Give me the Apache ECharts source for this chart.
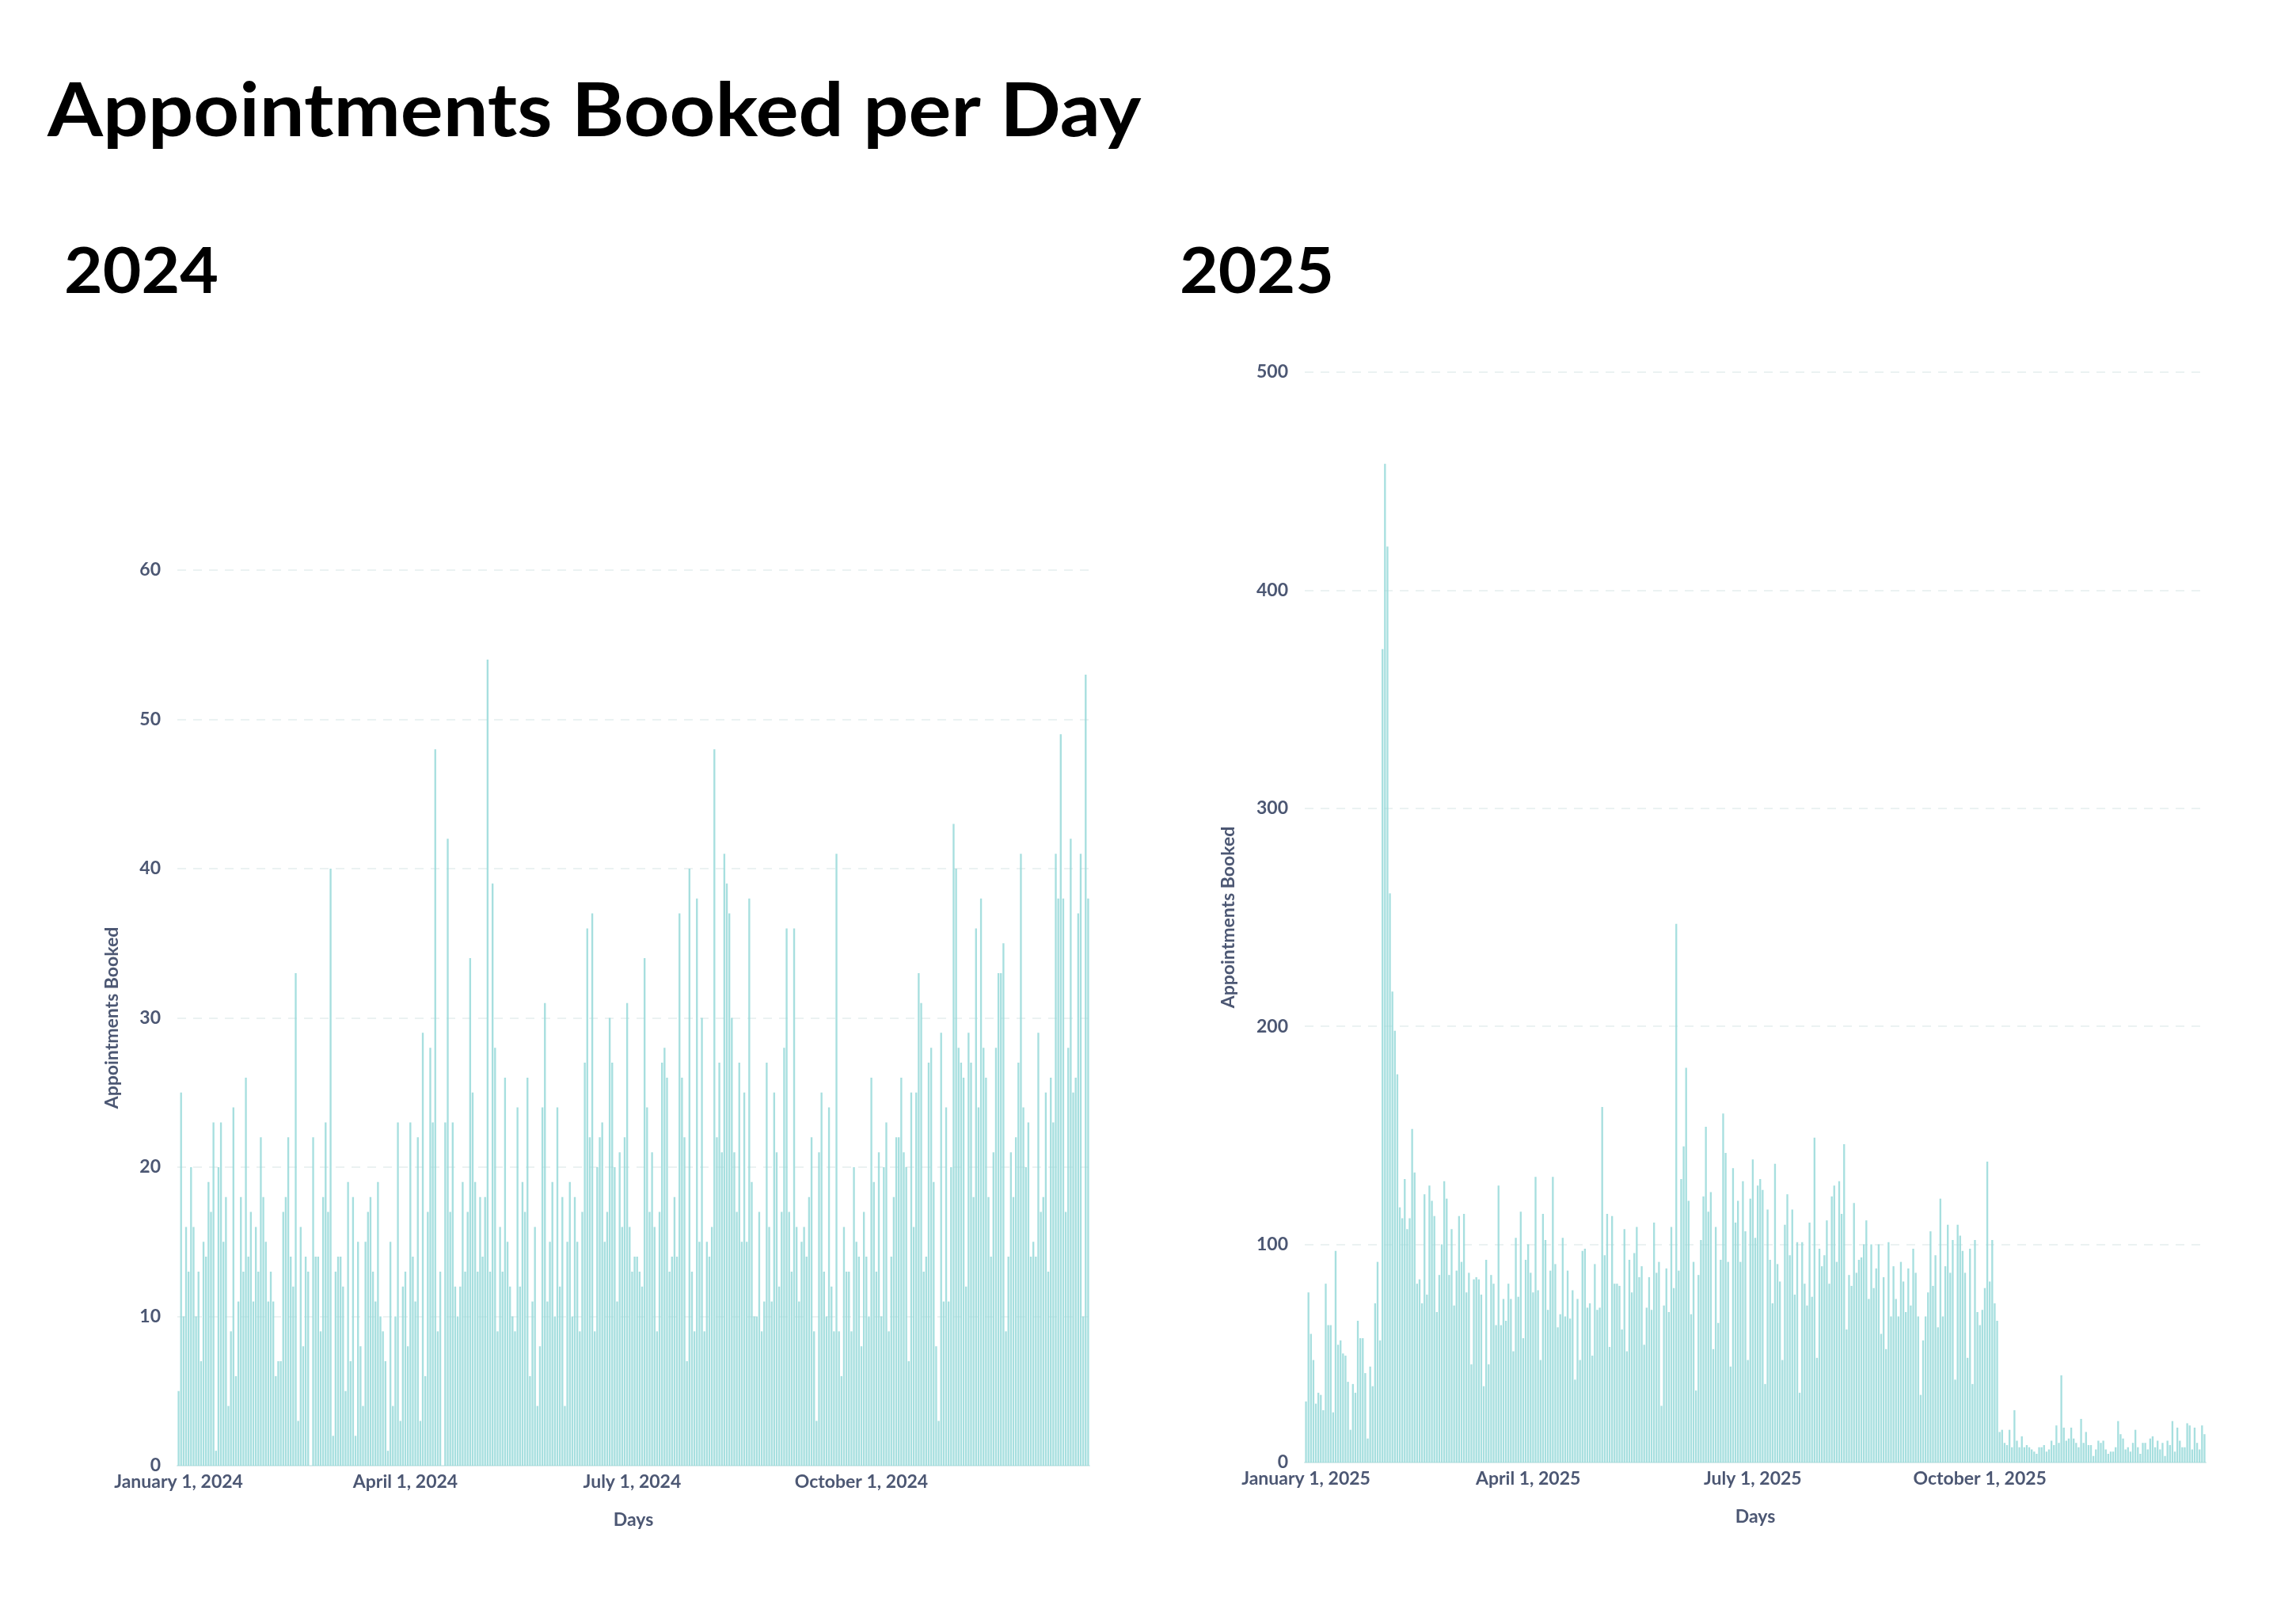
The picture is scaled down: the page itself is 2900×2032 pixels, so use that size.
<!DOCTYPE html>
<html><head><meta charset="utf-8">
<script src="https://cdn.jsdelivr.net/npm/echarts@6/dist/echarts.min.js"></script>
<style>html,body{margin:0;padding:0;background:#fff}#c{width:2900px;height:2032px}</style>
</head><body><div id="c"></div>
<script>
// ---- data ----
const values2024 = [
5,25,10,16,13,20,16,10,13,7, 15,14,19,17,23,1,20,23,15,18, 4,9,24,6,11,18,13,26,14,17,
11,16,13,22,18,15,11,13,11,6, 7,7,17,18,22,14,12,33,3,16, 8,14,13,0,22,14,14,9,18,23,
17,40,2,13,14,14,12,5,19,7, 18,2,15,8,4,15,17,18,13,11, 19,
10,9,7,1,15,4,10,23,3,12, 13,8,23,14,11,22,3,29,6,17, 28,23,48,9,13,0,23,42,17,23,
12,10,12,19,13,17,34,25,19,13, 18,14,18,54,13,39,28,9,16,13, 26,15,12,10,9,24,12,19,17,26,
6,11,16,4,8,24,31,11,15,19, 10,24,12,
18,4,15,19,10,18,15,9,17,27, 36,22,37,9,20,22,23,15,17,30, 27,20,11,21,16,22,31,16,13,14,
14,13,12,34,24,17,21,16,9,17, 27,28,26,13,14,18,14,37,26,22, 7,40,13,9,38,15,30,9,15,14,
16,48,22,27,21,41,39,37,30,21, 17,27,15,25,
15,38,19,10,10,17,9,11,27,16, 11,25,21,12,17,28,36,17,13,36, 16,11,15,16,14,18,22,9,3,21,
25,13,10,24,12,9,41,9,6,16, 13,13,9,20,15,14,8,17,14,10, 26,19,13,21,10,20,23,9,14,18,
22,22,26,21,20,7,25,16,25,
33,31,13,14,27,28,19,8,3,29, 11,24,11,20,43,40,28,27,26,12, 29,27,18,36,24,38,28,26,18,14,
21,28,33,33,35,9,14,21,18,22, 27,41,24,20,23,14,15,14,29,17, 18,25,13,26,23,41,38,49,38,17,
28,42,25,26,37,41,10,53,38
];
const values2025 = [
28,78,59,47,27,32,31,24,82,63, 63,23,97,54,56,50,49,37,15,36, 32,65,57,57,41,11,44,35,73,92,
56,373,458,420,261,216,198,178,117,112, 130,107,112,153,133,82,84,73,123,77, 127,120,113,69,86,100,129,121,86,107,
72,88,113,92,114,78,87,45,84,85, 84,77,35,93,45,86,82,63,127,63, 75,
65,82,75,51,103,76,115,57,93,100, 87,78,131,79,47,114,102,70,88,131, 91,62,68,103,67,88,66,79,38,75,
47,97,98,71,73,49,91,70,71,163, 95,114,53,113,82,82,81,61,107,51, 93,78,96,108,85,90,54,71,85,70,
110,87,92,26,72,89,69,108,80,247,
88,130,145,181,120,68,92,33,86,102, 122,154,115,124,52,108,64,93,160,142, 92,44,135,110,120,92,129,106,47,121,
139,103,127,130,125,36,116,93,73,137, 91,83,47,109,123,95,116,77,101,32, 101,82,72,110,76,149,48,98,90,95,
111,82,122,127,92,129,114,146,61,86, 81,119,87,93,94,100,111,
75,100,80,89,100,59,85,52,101,67, 90,75,67,92,83,69,89,72,98,87, 67,31,56,67,78,106,81,95,62,121,
67,90,109,87,102,38,109,104,97,87, 48,98,36,102,69,63,70,80,138,83, 102,73,65,14,15,9,8,15,7,24,
10,7,12,7,8,7,6,5,4,7, 7,8,5,6,
10,8,17,9,40,16,10,11,16,11, 9,7,20,9,14,8,8,3,6,10, 9,10,6,4,5,5,7,19,13,11,
6,7,5,9,15,7,4,9,9,6, 11,12,7,10,6,9,3,10,8,19, 5,16,10,7,7,18,17,6,16,9,
6,17,13
];
const tickDates2024 = ['2024-01-01','2024-04-01','2024-07-01','2024-10-01'];
const tickLabels2024 = ['January 1, 2024','April 1, 2024','July 1, 2024','October 1, 2024'];
const tickDates2025 = ['2025-01-01','2025-04-01','2025-07-01','2025-10-01'];
const tickLabels2025 = ['January 1, 2025','April 1, 2025','July 1, 2025','October 1, 2025'];
const yTicks2024 = {min: 0, max: 60, interval: 10};
const yTicks2025 = {min: 0, max: 500, interval: 100};

function dayList(year, n) {
  const out = [];
  for (let i = 0; i < n; i++) out.push(new Date(Date.UTC(year, 0, 1 + i)).toISOString().slice(0, 10));
  return out;
}
const days2024 = dayList(2024, values2024.length);
const days2025 = dayList(2025, values2025.length);

const TXT = '#4c5773';
const FONT = 'Lato';
const lbl = {fontFamily: FONT, fontWeight: 'bold', fontSize: 23, color: TXT};

function xAx(grid, days, tickDates, tickLabels) {
  return {
    type: 'category', gridIndex: grid, data: days, boundaryGap: true,
    axisTick: {show: false},
    axisLine: {show: true, lineStyle: {color: '#d9ecec', width: 2}},
    axisLabel: Object.assign({}, lbl, {
      margin: 9, hideOverlap: false,
      interval: (i, v) => tickDates.indexOf(v) >= 0,
      formatter: v => { const k = tickDates.indexOf(v); return k >= 0 ? tickLabels[k] : ''; }
    }),
    name: 'Days', nameLocation: 'middle', nameGap: 57,
    nameTextStyle: Object.assign({}, lbl)
  };
}
function yAx(grid, t, gap) {
  return {
    type: 'value', gridIndex: grid, min: t.min, max: t.max, interval: t.interval,
    axisLine: {show: false}, axisTick: {show: false},
    splitLine: {show: true, lineStyle: {color: '#e5eeee', width: 1.5, type: [11, 9]}},
    axisLabel: Object.assign({}, lbl, {margin: 21}),
    name: 'Appointments Booked', nameLocation: 'middle', nameRotate: 90, nameGap: gap,
    nameTextStyle: Object.assign({}, lbl)
  };
}
const barStyle = {color: '#98d9d9', opacity: 0.85};

const chart = echarts.init(document.getElementById('c'), null, {renderer: 'canvas'});
chart.setOption({
  animation: false,
  backgroundColor: '#ffffff',
  grid: [
    {left: 224, top: 720, width: 1152, height: 1131},
    {left: 1648, top: 470, width: 1138, height: 1377}
  ],
  xAxis: [xAx(0, days2024, tickDates2024, tickLabels2024), xAx(1, days2025, tickDates2025, tickLabels2025)],
  yAxis: [yAx(0, yTicks2024, 71), yAx(1, yTicks2025, 85)],
  series: [
    {type: 'bar', xAxisIndex: 0, yAxisIndex: 0, data: values2024, barCategoryGap: '25%', itemStyle: barStyle},
    {type: 'bar', xAxisIndex: 1, yAxisIndex: 1, data: values2025, barCategoryGap: '25%', itemStyle: barStyle}
  ],
  graphic: [
    {type: 'text', x: 60, y: 142, scaleX: 1.072, silent: true,
     style: {text: 'Appointments Booked per Day', font: 'bold 94px Lato', fill: '#000', verticalAlign: 'middle'}},
    {type: 'text', x: 81, y: 344, scaleX: 1.05, silent: true,
     style: {text: '2024', font: 'bold 80px Lato', fill: '#000', verticalAlign: 'middle'}},
    {type: 'text', x: 1490, y: 344, scaleX: 1.05, silent: true,
     style: {text: '2025', font: 'bold 80px Lato', fill: '#000', verticalAlign: 'middle'}}
  ]
});
</script></body></html>
